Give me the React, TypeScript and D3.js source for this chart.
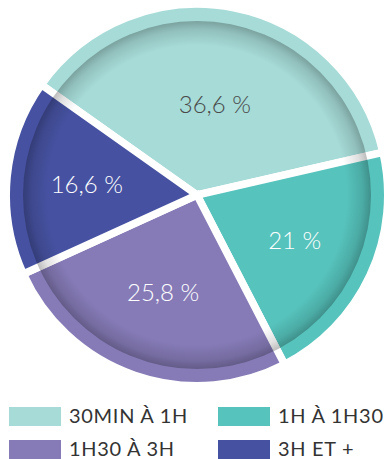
import React from "react";
import * as d3 from "d3";

// Durée des trajets : parts en pourcentage
const categories = ["30MIN À 1H", "1H À 1H30", "1H30 À 3H", "3H ET +"];
const values = [36.6, 21, 25.8, 16.6];
const valueLabels = ["36,6 %", "21 %", "25,8 %", "16,6 %"];
const colors = ["#a6dbd7", "#56c3bc", "#867bb7", "#4652a1"];
const labelColors = ["#4a4a4a", "#ffffff", "#ffffff", "#ffffff"];

const W = 392;
const H = 459;
const cx = 197;
const cy = 195;
const R = 187;
const gap = 7.5;
const rimWidth = 13;

export default function App() {
  const startAngle = (-54.7 * Math.PI) / 180;
  const pie = d3
    .pie<number>()
    .sort(null)
    .value((d) => d)
    .startAngle(startAngle)
    .endAngle(startAngle + 2 * Math.PI);
  const arcs = pie(values);

  const arcGen = d3
    .arc<d3.PieArcDatum<number>>()
    .innerRadius(0)
    .outerRadius(R + gap / 2);

  // label sits near the area centroid of its sector
  const labelPos = (a: d3.PieArcDatum<number>) => {
    const theta = a.endAngle - a.startAngle;
    const mid = (a.startAngle + a.endAngle) / 2;
    const r = ((4 * R * Math.sin(theta / 2)) / (3 * theta)) * 0.93;
    return [r * Math.sin(mid), -r * Math.cos(mid)];
  };

  const innerR = R - rimWidth;

  // legend layout: two columns, two rows
  const legendX = d3.scaleOrdinal<number, number>().domain([0, 1]).range([9, 218]);
  const legendY = d3.scaleOrdinal<number, number>().domain([0, 1]).range([407, 440]);

  return (
    <svg
      width={W}
      height={H}
      style={{ position: "absolute", left: 0, top: 0, display: "block" }}
      fontFamily="Lato, 'Open Sans', sans-serif"
    >
      <defs>
        <radialGradient
          id="innerShade"
          gradientUnits="userSpaceOnUse"
          cx={0}
          cy={0}
          r={innerR}
        >
          <stop offset="0" stopColor="#000" stopOpacity={0} />
          <stop offset="0.86" stopColor="#000" stopOpacity={0} />
          <stop offset="0.95" stopColor="#000" stopOpacity={0.12} />
          <stop offset="1" stopColor="#000" stopOpacity={0.26} />
        </radialGradient>
      </defs>
      <g transform={`translate(${cx},${cy})`}>
        {arcs.map((a, i) => (
          <path
            key={categories[i]}
            d={arcGen(a) || ""}
            fill={colors[i]}
            stroke="#ffffff"
            strokeWidth={gap}
            strokeLinejoin="miter"
          />
        ))}
        <circle r={innerR} fill="url(#innerShade)" />
        {arcs.map((a, i) => {
          const [x, y] = labelPos(a);
          return (
            <text
              key={valueLabels[i]}
              x={x}
              y={y}
              textAnchor="middle"
              dy="0.35em"
              fontSize={24}
              fontWeight={300}
              fill={labelColors[i]}
            >
              {valueLabels[i]}
            </text>
          );
        })}
      </g>
      <g>
        {categories.map((c, i) => {
          const col = i % 2;
          const row = Math.floor(i / 2);
          const x = legendX(col);
          const y = legendY(row);
          return (
            <g key={c} transform={`translate(${x},${y})`}>
              <rect width={52} height={19} fill={colors[i]} />
              <text
                x={60}
                y={15.5}
                fontSize={20}
                fill="#333333"
                letterSpacing={0.7}
              >
                {c}
              </text>
            </g>
          );
        })}
      </g>
    </svg>
  );
}
